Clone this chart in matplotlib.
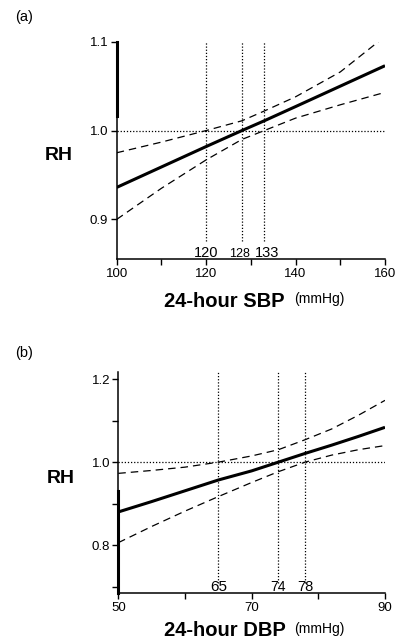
import matplotlib.pyplot as plt
import matplotlib.transforms as mtransforms

plt.rcParams['font.family'] = ['Liberation Sans', 'DejaVu Sans']

# panel (a) : 24-hour SBP
sbp_x = [100, 110, 120, 128, 133, 140, 150, 160]
sbp_rh = [0.936, 0.959, 0.982, 1.000, 1.011, 1.027, 1.050, 1.073]
sbp_upper = [0.975, 0.987, 1.000, 1.011, 1.022, 1.038, 1.066, 1.106]
sbp_lower = [0.900, 0.935, 0.967, 0.990, 1.000, 1.014, 1.029, 1.043]
sbp_cuts = [120, 128, 133]
sbp_cut_labels = ['120', '128', '133']

# panel (b) : 24-hour DBP
dbp_x = [50, 55, 60, 65, 70, 74, 78, 82, 86, 90]
dbp_rh = [0.880, 0.905, 0.931, 0.957, 0.979, 1.000, 1.021, 1.041, 1.062, 1.084]
dbp_upper = [0.973, 0.980, 0.988, 1.000, 1.015, 1.030, 1.054, 1.080, 1.113, 1.149]
dbp_lower = [0.806, 0.845, 0.882, 0.917, 0.951, 0.977, 1.000, 1.017, 1.030, 1.040]
dbp_cuts = [65, 74, 78]
dbp_cut_labels = ['65', '74', '78']

fig = plt.figure(figsize=(3.95, 6.42), dpi=100)
ax1 = fig.add_axes([0.2954, 0.596, 0.6793, 0.339])
ax2 = fig.add_axes([0.2995, 0.0759, 0.6752, 0.3451])


def panel(ax, x, rh, up, lo, cuts, cut_labels, cut_sizes, cut_shift, xlim,
          ylim, cut_bottom, xmaj, xmin, ymaj, ymin, name, name_y, letter,
          letter_pos, rh_y, rug):
    ax.plot(x, rh, color='black', lw=2.2, solid_capstyle='butt')
    ax.plot(x, up, color='black', lw=0.9, dashes=(6, 4))
    ax.plot(x, lo, color='black', lw=0.9, dashes=(6, 4))
    ax.axhline(1.0, color='black', lw=0.9, ls=(0, (1, 1.5)))
    ax.vlines(cuts, cut_bottom, ylim[1], color='black', lw=0.9,
              linestyles=[(0, (1, 1.5))])
    ax.plot([xlim[0], xlim[0]], rug, color='black', lw=2.2, clip_on=False)
    trans = mtransforms.blended_transform_factory(ax.transData, ax.transAxes)
    for c, lab, fs, dx in zip(cuts, cut_labels, cut_sizes, cut_shift):
        t = trans + mtransforms.ScaledTranslation(dx / 72, 0,
                                                  fig.dpi_scale_trans)
        ax.text(c, 0.01, lab, transform=t, ha='center', va='baseline',
                fontsize=fs)
    ax.set_xlim(xlim)
    ax.set_ylim(ylim)
    ax.set_xticks(xmaj)
    ax.set_xticks(xmin, minor=True)
    ax.set_yticks(ymaj)
    ax.set_yticks(ymin, minor=True)
    ax.set_yticklabels(['%.1f' % v for v in ymaj])
    ax.tick_params(which='both', direction='out', length=4, width=1,
                   labelsize=9.5, pad=2)
    for s in ['top', 'right']:
        ax.spines[s].set_visible(False)
    for s in ['left', 'bottom']:
        ax.spines[s].set_linewidth(1.1)
    ax.text(-0.215, rh_y, 'RH', transform=ax.transAxes, fontsize=14,
            fontweight='bold', ha='center', va='center')
    ax.text(0.627, name_y, name, transform=ax.transAxes, fontsize=14.5,
            fontweight='bold', ha='right', va='top')
    ax.text(0.66, name_y - 0.004, '(mmHg)', transform=ax.transAxes,
            fontsize=10, ha='left', va='top')
    ax.text(letter_pos[0], letter_pos[1], letter, transform=ax.transAxes,
            fontsize=10.5, ha='center', va='center')


panel(ax1, sbp_x, sbp_rh, sbp_upper, sbp_lower, sbp_cuts, sbp_cut_labels,
      [10.5, 9, 10.5], [0, -1.5, 2], (100, 160), (0.855, 1.1), 0.876,
      [100, 120, 140, 160], [110, 130, 150], [0.9, 1.0, 1.1], [],
      '24-hour SBP', -0.148, '(a)', (-0.345, 1.113), 0.479, [1.1, 1.016])

panel(ax2, dbp_x, dbp_rh, dbp_upper, dbp_lower, dbp_cuts, dbp_cut_labels,
      [11, 10, 10.5], [0, 0, 0], (50, 90), (0.684, 1.218), 0.708,
      [50, 70, 90], [60, 80], [0.8, 1.0, 1.2], [0.7, 0.9, 1.1],
      '24-hour DBP', -0.125, '(b)', (-0.354, 1.084), 0.516, [0.93, 0.684])

fig.savefig('out.png', dpi=100)
